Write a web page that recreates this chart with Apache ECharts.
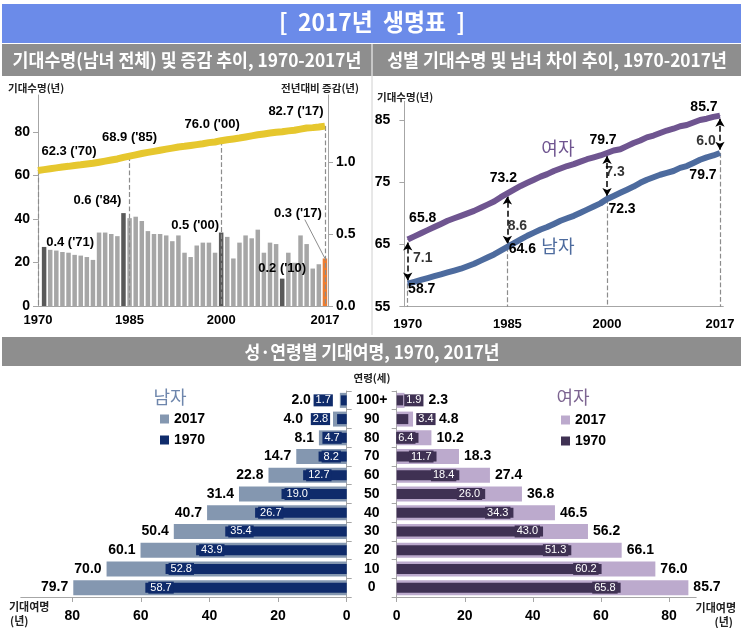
<!DOCTYPE html>
<html>
<head>
<meta charset="utf-8">
<script src="https://cdn.jsdelivr.net/npm/echarts@6/dist/echarts.min.js"></script>
<style>
html, body { margin: 0; padding: 0; background: #fff; }
#main { width: 743px; height: 628px; }
</style>
</head>
<body>
<div id="main"></div>
<script>
// 연도별 기대수명 (남녀 전체, 남자, 여자)
var years = [1970, 1971, 1972, 1973, 1974, 1975, 1976, 1977, 1978, 1979,
  1980, 1981, 1982, 1983, 1984, 1985, 1986, 1987, 1988, 1989,
  1990, 1991, 1992, 1993, 1994, 1995, 1996, 1997, 1998, 1999,
  2000, 2001, 2002, 2003, 2004, 2005, 2006, 2007, 2008, 2009,
  2010, 2011, 2012, 2013, 2014, 2015, 2016, 2017]
var totalLE = [62.3, 62.7, 63.1, 63.5, 63.9, 64.2, 64.6, 64.9, 65.3, 65.6,
  66.1, 66.6, 67.1, 67.6, 68.3, 68.9, 69.5, 70.1, 70.6, 71.1,
  71.6, 72.1, 72.6, 73.1, 73.4, 73.8, 74.2, 74.6, 75.1, 75.4,
  76.0, 76.4, 76.8, 77.2, 77.7, 78.2, 78.7, 79.1, 79.5, 79.9,
  80.1, 80.5, 80.8, 81.3, 81.8, 82.0, 82.3, 82.7]
var femaleLE = [65.8, 66.3, 66.8, 67.3, 67.8, 68.3, 68.8, 69.2, 69.6, 70.0,
  70.4, 70.9, 71.4, 71.9, 72.6, 73.2, 73.8, 74.4, 74.9, 75.4,
  75.9, 76.3, 76.8, 77.2, 77.6, 77.9, 78.3, 78.7, 79.0, 79.3,
  79.7, 80.1, 80.3, 80.8, 81.3, 81.7, 82.2, 82.5, 82.9, 83.3,
  83.6, 84.0, 84.2, 84.6, 85.0, 85.2, 85.5, 85.7]
var maleLE = [58.7, 59.0, 59.3, 59.6, 59.9, 60.2, 60.5, 60.8, 61.1, 61.5,
  61.9, 62.4, 62.9, 63.4, 64.0, 64.6, 65.2, 65.8, 66.4, 66.9,
  67.4, 67.8, 68.3, 68.8, 69.2, 69.6, 70.1, 70.6, 71.1, 71.6,
  72.3, 72.8, 73.3, 73.8, 74.3, 74.9, 75.4, 75.8, 76.2, 76.5,
  76.8, 77.3, 77.6, 78.1, 78.6, 79.0, 79.3, 79.7]

// 전년대비 증감(년)
var incYears = [1971, 1972, 1973, 1974, 1975, 1976, 1977, 1978, 1979, 1980,
  1981, 1982, 1983, 1984, 1985, 1986, 1987, 1988, 1989, 1990,
  1991, 1992, 1993, 1994, 1995, 1996, 1997, 1998, 1999, 2000,
  2001, 2002, 2003, 2004, 2005, 2006, 2007, 2008, 2009, 2010,
  2011, 2012, 2013, 2014, 2015, 2016, 2017]
var incValues = [0.41, 0.39, 0.385, 0.375, 0.37, 0.355, 0.35, 0.34, 0.32, 0.51,
  0.51, 0.50, 0.485, 0.645, 0.61, 0.62, 0.59, 0.52, 0.50, 0.50,
  0.49, 0.45, 0.49, 0.37, 0.34, 0.42, 0.44, 0.44, 0.37, 0.51,
  0.48, 0.33, 0.44, 0.49, 0.47, 0.53, 0.37, 0.44, 0.43, 0.19,
  0.37, 0.30, 0.49, 0.43, 0.26, 0.29, 0.33]
var incHighlight = [1971, 1984, 2000, 2010]
var incLabels = { 1971: '0.4', 1984: '0.6', 2000: '0.5', 2010: '0.2', 2017: '0.3' }

var keyYears = [1970, 1985, 2000, 2017]
var gapValues = [7.1, 8.6, 7.3, 6.0]

// 성·연령별 기대여명
var ages = ['0', '10', '20', '30', '40', '50', '60', '70', '80', '90', '100+']
var male2017 = [79.7, 70.0, 60.1, 50.4, 40.7, 31.4, 22.8, 14.7, 8.1, 4.0, 2.0]
var male1970 = [58.7, 52.8, 43.9, 35.4, 26.7, 19.0, 12.7, 8.2, 4.7, 2.8, 1.7]
var female2017 = [85.7, 76.0, 66.1, 56.2, 46.5, 36.8, 27.4, 18.3, 10.2, 4.8, 2.3]
var female1970 = [65.8, 60.2, 51.3, 43.0, 34.3, 26.0, 18.4, 11.7, 6.4, 3.4, 1.9]

var NUM_FONT = 'Arial, "Liberation Sans", "Noto Sans CJK KR", sans-serif'
var KR_FONT = '"Noto Sans CJK KR", "Noto Sans", sans-serif'
var AXIS_GRAY = '#A6A6A6'

var COLORS = {
  bar: '#A6A6A6', barDark: '#595959', barLast: '#ED7D31', total: '#E6C72E',
  female: '#6F5590', male: '#4D6B9E',
  m2017: '#8497B0', m1970: '#0F2B6B', f2017: '#BCAACD', f1970: '#3F3153'
}

var totalLabelOffset = { 1970: [31, -7], 1985: [0, -7], 2000: [-9, -4], 2017: [-29, -3] }
var incLabelOffset = { 1971: [26, 7], 1984: [-26, -1], 2000: [-26, 4], 2010: [0, 1], 2017: [-27, -34] }
var femaleLabelOffset = { 1970: [15, -9], 1985: [-4, -3], 2000: [-4, 0], 2017: [-16, 4] }
var maleLabelOffset = { 1970: [14, -7], 1985: [15, -10], 2000: [15, -2], 2017: [-17, 10] }
var gapLabelOffset = [[15, -3], [10, 6], [8, -4], [-14, 7]]

var myChart = echarts.init(document.getElementById('main'))

function yearLabel(v) {
  return keyYears.indexOf(v) >= 0 ? String(v) : ''
}

var totalData = years.map(function (y, i) {
  var item = { value: [y, totalLE[i]] }
  if (keyYears.indexOf(y) >= 0) {
    item.label = {
      show: true, position: 'top', offset: totalLabelOffset[y],
      formatter: function (p) { return p.value[1].toFixed(1) + " ('" + String(p.value[0]).slice(2) + ")" }
    }
  }
  return item
})

var incData = incYears.map(function (y, i) {
  var color = COLORS.bar
  if (incHighlight.indexOf(y) >= 0) color = COLORS.barDark
  if (y === 2017) color = COLORS.barLast
  var item = { value: [y, incValues[i]], itemStyle: { color: color } }
  if (incLabels[y]) {
    item.label = {
      show: true, position: 'top', offset: incLabelOffset[y],
      formatter: incLabels[y] + " ('" + String(y).slice(2) + ")"
    }
  }
  return item
})

function sexData(values, offsets, pos, nameLabel) {
  return years.map(function (y, i) {
    var item = { value: [y, values[i]] }
    if (offsets[y]) {
      item.label = { show: true, position: pos, offset: offsets[y], formatter: values[i].toFixed(1) }
    }
    if (y === 1992) {
      item.label = {
        show: true, position: pos, offset: nameLabel.offset, formatter: nameLabel.text,
        fontFamily: KR_FONT, fontWeight: 'normal', fontSize: 18, color: nameLabel.color
      }
    }
    return item
  })
}

var keyIdx = keyYears.map(function (y) { return years.indexOf(y) })

var dashLines = keyIdx.map(function (i) {
  return [{ coord: [years[i], totalLE[i]] }, { coord: [years[i], 0] }]
})
var sexDashLines = keyIdx.map(function (i) {
  return [{ coord: [years[i], maleLE[i]] }, { coord: [years[i], 55] }]
})
var gapArrows = keyIdx.map(function (i) {
  return [{ coord: [years[i], maleLE[i] + 0.5] }, { coord: [years[i], femaleLE[i] - 0.5] }]
})
var gapData = keyIdx.map(function (i, k) {
  return {
    value: [years[i], (maleLE[i] + femaleLE[i]) / 2, gapValues[k]],
    label: { offset: gapLabelOffset[k] }
  }
})

function pyramidData(values, special) {
  return values.map(function (v, i) {
    if (special[i]) return { value: v, label: special[i] }
    return v
  })
}

var lbl2017 = { show: true, fontSize: 14, fontWeight: 'bold', color: '#000', distance: 5,
  formatter: function (p) { return p.value.toFixed(1) } }
var lbl1970 = { show: true, fontSize: 11, color: '#fff', distance: 3, padding: [1, 2, 0, 2],
  formatter: function (p) { return p.value.toFixed(1) } }

var option = {
  animation: false,
  textStyle: { fontFamily: NUM_FONT },
  grid: [
    { left: 38, right: 415, top: 95, height: 211 },
    { left: 404.4, right: 19.7, top: 101.3, height: 205.4 },
    { left: 20.8, right: 396.3, top: 391, height: 206 },
    { left: 396.7, right: 46.8, top: 391, height: 206 }
  ],
  legend: [
    {
      data: ['m2017', 'm1970'], left: 155, top: 407, orient: 'vertical',
      icon: 'rect', itemWidth: 9, itemHeight: 9, itemGap: 7,
      formatter: function (n) { return n.slice(1) },
      textStyle: { fontSize: 14, fontWeight: 'bold', color: '#000' }
    },
    {
      data: ['f2017', 'f1970'], left: 556, top: 408, orient: 'vertical',
      icon: 'rect', itemWidth: 9, itemHeight: 9, itemGap: 7,
      formatter: function (n) { return n.slice(1) },
      textStyle: { fontSize: 14, fontWeight: 'bold', color: '#000' }
    }
  ],
  xAxis: [
    {
      gridIndex: 0, type: 'value', min: 1970, max: 2017.5, interval: 0.5,
      axisLine: { lineStyle: { color: AXIS_GRAY } }, axisTick: { show: false }, splitLine: { show: false },
      axisLabel: { formatter: yearLabel, fontSize: 13, fontWeight: 'bold', color: '#000', margin: 8, hideOverlap: false }
    },
    {
      gridIndex: 1, type: 'value', min: 1969.5, max: 2017.5, interval: 0.5,
      axisLine: { lineStyle: { color: AXIS_GRAY } }, axisTick: { show: false }, splitLine: { show: false },
      axisLabel: { formatter: yearLabel, fontSize: 13, fontWeight: 'bold', color: '#000', margin: 11, hideOverlap: false }
    },
    {
      gridIndex: 2, type: 'value', inverse: true, min: 0, max: 95, interval: 20,
      axisLine: { show: true, lineStyle: { color: AXIS_GRAY } }, axisTick: { show: true, lineStyle: { color: AXIS_GRAY } },
      splitLine: { show: false },
      axisLabel: { fontSize: 14, fontWeight: 'bold', color: '#000', margin: 12, showMaxLabel: false }
    },
    {
      gridIndex: 3, type: 'value', min: 0, max: 88, interval: 20,
      axisLine: { show: true, lineStyle: { color: AXIS_GRAY } }, axisTick: { show: true, lineStyle: { color: AXIS_GRAY } },
      splitLine: { show: false },
      axisLabel: { fontSize: 14, fontWeight: 'bold', color: '#000', margin: 12, showMaxLabel: false }
    }
  ],
  yAxis: [
    {
      gridIndex: 0, type: 'value', min: 0, max: 97, interval: 20,
      axisLine: { show: true, lineStyle: { color: AXIS_GRAY } }, axisTick: { show: true, lineStyle: { color: AXIS_GRAY } },
      splitLine: { show: false },
      axisLabel: { fontSize: 14, fontWeight: 'bold', color: '#000', showMaxLabel: false }
    },
    {
      gridIndex: 0, type: 'value', position: 'right', min: 0, max: 1.465, interval: 0.5,
      axisLine: { show: true, lineStyle: { color: AXIS_GRAY } }, axisTick: { show: true, lineStyle: { color: AXIS_GRAY } },
      splitLine: { show: false },
      axisLabel: { fontSize: 14, fontWeight: 'bold', color: '#000', showMaxLabel: false,
        formatter: function (v) { return v.toFixed(1) } }
    },
    {
      gridIndex: 1, type: 'value', min: 55, max: 88, interval: 10,
      axisLine: { show: true, lineStyle: { color: AXIS_GRAY } }, axisTick: { show: true, lineStyle: { color: AXIS_GRAY } },
      splitLine: { show: false },
      axisLabel: { fontSize: 14, fontWeight: 'bold', color: '#000', margin: 14, showMaxLabel: false }
    },
    {
      gridIndex: 2, type: 'category', data: ages, position: 'right',
      axisLine: { show: true, lineStyle: { color: AXIS_GRAY } }, axisTick: { show: true, lineStyle: { color: AXIS_GRAY } },
      axisLabel: { show: false }
    },
    { gridIndex: 2, type: 'category', data: ages, show: false },
    {
      gridIndex: 3, type: 'category', data: ages, position: 'left',
      axisLine: { show: true, lineStyle: { color: AXIS_GRAY } }, axisTick: { show: true, lineStyle: { color: AXIS_GRAY } },
      axisLabel: { fontSize: 14, fontWeight: 'bold', color: '#000', align: 'center', margin: 25 }
    },
    { gridIndex: 3, type: 'category', data: ages, show: false }
  ],
  series: [
    {
      type: 'bar', xAxisIndex: 0, yAxisIndex: 1, barWidth: 4.5, data: incData,
      label: { fontSize: 13, fontWeight: 'bold', color: '#000' },
      markLine: {
        silent: true, symbol: 'none', label: { show: false },
        lineStyle: { color: '#8C8C8C', type: 'solid', width: 1 },
        data: [[{ coord: [2013.7, 0.6] }, { coord: [2017, 0.33] }]]
      }
    },
    {
      type: 'line', xAxisIndex: 0, yAxisIndex: 0, data: totalData,
      symbol: 'circle', symbolSize: 1, showSymbol: true, showAllSymbol: true, z: 5,
      itemStyle: { color: COLORS.total },
      lineStyle: { color: COLORS.total, width: 7 },
      label: { fontSize: 13, fontWeight: 'bold', color: '#000' },
      markLine: {
        silent: true, symbol: 'none', label: { show: false },
        lineStyle: { color: '#8C8C8C', type: 'dashed', width: 1.2 },
        data: dashLines
      }
    },
    {
      type: 'line', xAxisIndex: 1, yAxisIndex: 2, data: sexData(maleLE, maleLabelOffset, 'bottom',
        { text: '남자', offset: [4, 8], color: COLORS.male }),
      symbol: 'circle', symbolSize: 1, showSymbol: true, showAllSymbol: true, z: 5,
      itemStyle: { color: COLORS.male },
      lineStyle: { color: COLORS.male, width: 6 },
      label: { fontSize: 14, fontWeight: 'bold', color: '#000' },
      markLine: {
        silent: true, symbol: 'none', label: { show: false },
        lineStyle: { color: '#8C8C8C', type: 'dashed', width: 1.2 },
        data: sexDashLines
      }
    },
    {
      type: 'line', xAxisIndex: 1, yAxisIndex: 2, data: sexData(femaleLE, femaleLabelOffset, 'top',
        { text: '여자', offset: [4, -8], color: COLORS.female }),
      symbol: 'circle', symbolSize: 1, showSymbol: true, showAllSymbol: true, z: 5,
      itemStyle: { color: COLORS.female },
      lineStyle: { color: COLORS.female, width: 6 },
      label: { fontSize: 14, fontWeight: 'bold', color: '#000' },
      markLine: {
        silent: true, symbol: ['arrow', 'arrow'], symbolSize: [7, 8], label: { show: false },
        lineStyle: { color: '#000', type: 'dashed', width: 1.5 },
        data: gapArrows
      }
    },
    {
      type: 'scatter', xAxisIndex: 1, yAxisIndex: 2, symbolSize: 0, data: gapData, z: 6,
      label: { show: true, position: 'inside', fontSize: 14, fontWeight: 'bold', color: '#000',
        formatter: function (p) { return p.value[2].toFixed(1) } }
    },
    {
      name: 'm2017', type: 'bar', xAxisIndex: 2, yAxisIndex: 3, barWidth: 15,
      itemStyle: { color: COLORS.m2017 },
      label: Object.assign({}, lbl2017, { position: 'left' }),
      data: pyramidData(male2017, { 9: { distance: 30 }, 10: { distance: 29 } })
    },
    {
      name: 'm1970', type: 'bar', xAxisIndex: 2, yAxisIndex: 4, barWidth: 10,
      itemStyle: { color: COLORS.m1970 },
      label: Object.assign({}, lbl1970, { position: 'insideLeft', backgroundColor: COLORS.m1970 }),
      data: pyramidData(male1970, {
        8: { position: 'insideRight', distance: 5 },
        9: { position: 'left', distance: 7 },
        10: { position: 'left', distance: 8 }
      })
    },
    {
      name: 'f2017', type: 'bar', xAxisIndex: 3, yAxisIndex: 5, barWidth: 15,
      itemStyle: { color: COLORS.f2017 },
      label: Object.assign({}, lbl2017, { position: 'right' }),
      data: pyramidData(female2017, { 9: { distance: 26 }, 10: { distance: 24 } })
    },
    {
      name: 'f1970', type: 'bar', xAxisIndex: 3, yAxisIndex: 6, barWidth: 10,
      itemStyle: { color: COLORS.f1970 },
      label: Object.assign({}, lbl1970, { position: 'insideRight', backgroundColor: COLORS.f1970 }),
      data: pyramidData(female1970, {
        9: { position: 'right', distance: 8 },
        10: { position: 'right', distance: 1 }
      })
    }
  ],
  graphic: [
    { type: 'rect', shape: { x: 2, y: 4, width: 739, height: 39 }, style: { fill: '#6B8BE9' }, z: -1 },
    { type: 'rect', shape: { x: 2, y: 44, width: 739, height: 32 }, style: { fill: '#8E8E8E' }, z: -1 },
    { type: 'line', shape: { x1: 372, y1: 44, x2: 372, y2: 76 }, style: { stroke: '#fff', lineWidth: 1 } },
    { type: 'line', shape: { x1: 372, y1: 76, x2: 372, y2: 335 }, style: { stroke: '#D0D0D0', lineWidth: 1 } },
    { type: 'rect', shape: { x: 2, y: 337, width: 739, height: 29 }, style: { fill: '#8E8E8E' }, z: -1 },
    { type: 'text', x: 372, y: 22, scaleX: 0.95, style: { text: '[  2017년  생명표  ]', fill: '#fff',
      fontFamily: KR_FONT, fontWeight: 'bold', fontSize: 24, align: 'center', verticalAlign: 'middle' } },
    { type: 'text', x: 187, y: 60, scaleX: 0.96, style: { text: '기대수명(남녀 전체) 및 증감 추이, 1970-2017년', fill: '#fff',
      fontFamily: KR_FONT, fontWeight: 'bold', fontSize: 18, align: 'center', verticalAlign: 'middle' } },
    { type: 'text', x: 557, y: 60, scaleX: 0.96, style: { text: '성별 기대수명 및 남녀 차이 추이, 1970-2017년', fill: '#fff',
      fontFamily: KR_FONT, fontWeight: 'bold', fontSize: 18, align: 'center', verticalAlign: 'middle' } },
    { type: 'text', x: 372, y: 352, scaleX: 0.95, style: { text: '성·연령별 기대여명, 1970, 2017년', fill: '#fff',
      fontFamily: KR_FONT, fontWeight: 'bold', fontSize: 18, align: 'center', verticalAlign: 'middle' } },
    { type: 'text', x: 8, y: 88, style: { text: '기대수명(년)', fill: '#222', fontFamily: KR_FONT, fontWeight: 'bold',
      fontSize: 10.5, align: 'left', verticalAlign: 'middle' } },
    { type: 'text', x: 359, y: 88, style: { text: '전년대비 증감(년)', fill: '#222', fontFamily: KR_FONT, fontWeight: 'bold',
      fontSize: 10.5, align: 'right', verticalAlign: 'middle' } },
    { type: 'text', x: 377, y: 97, style: { text: '기대수명(년)', fill: '#222', fontFamily: KR_FONT, fontWeight: 'bold',
      fontSize: 10.5, align: 'left', verticalAlign: 'middle' } },
    { type: 'text', x: 372, y: 378, style: { text: '연령(세)', fill: '#222', fontFamily: KR_FONT, fontWeight: 'bold',
      fontSize: 10.5, align: 'center', verticalAlign: 'middle' } },
    { type: 'text', x: 9, y: 607, style: { text: '기대여명', fill: '#222', fontFamily: KR_FONT, fontWeight: 'bold',
      fontSize: 11, align: 'left', verticalAlign: 'middle' } },
    { type: 'text', x: 10, y: 621, style: { text: '(년)', fill: '#222', fontFamily: KR_FONT, fontWeight: 'bold',
      fontSize: 11, align: 'left', verticalAlign: 'middle' } },
    { type: 'text', x: 736, y: 608, style: { text: '기대여명', fill: '#222', fontFamily: KR_FONT, fontWeight: 'bold',
      fontSize: 11, align: 'right', verticalAlign: 'middle' } },
    { type: 'text', x: 733, y: 622, style: { text: '(년)', fill: '#222', fontFamily: KR_FONT, fontWeight: 'bold',
      fontSize: 11, align: 'right', verticalAlign: 'middle' } },
    { type: 'text', x: 170, y: 397, style: { text: '남자', fill: '#6E86AC', fontFamily: KR_FONT,
      fontSize: 18, align: 'center', verticalAlign: 'middle' } },
    { type: 'text', x: 573, y: 397, style: { text: '여자', fill: '#7D6591', fontFamily: KR_FONT,
      fontSize: 18, align: 'center', verticalAlign: 'middle' } }
  ]
}

myChart.setOption(option)
</script>
</body>
</html>
